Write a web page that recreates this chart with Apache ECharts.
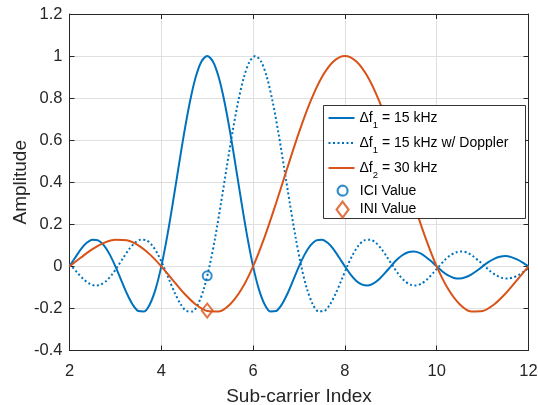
<!DOCTYPE html>
<html>
<head>
<meta charset="utf-8">
<script src="https://cdn.jsdelivr.net/npm/echarts@6/dist/echarts.min.js"></script>
<style>
  html, body { margin: 0; padding: 0; background: #fff; }
  #chart { width: 538px; height: 405px; }
</style>
</head>
<body>
<div id="chart"></div>
<script>
// values
// Δf1 = 15 kHz, main lobe at index 5
var xSolid = [2, 2.125, 2.25, 2.375, 2.5, 2.625, 2.75, 2.875,
  3, 3.125, 3.25, 3.375, 3.5, 3.625, 3.75, 3.875,
  4, 4.125, 4.25, 4.375, 4.5, 4.625, 4.75, 4.875,
  5, 5.125, 5.25, 5.375, 5.5, 5.625, 5.75, 5.875,
  6, 6.125, 6.25, 6.375, 6.5, 6.625, 6.75, 6.875,
  7, 7.125, 7.25, 7.375, 7.5, 7.625, 7.75, 7.875,
  8, 8.125, 8.25, 8.375, 8.5, 8.625, 8.75, 8.875,
  9, 9.125, 9.25, 9.375, 9.5, 9.625, 9.75, 9.875,
  10, 10.125, 10.25, 10.375, 10.5, 10.625, 10.75, 10.875,
  11, 11.125, 11.25, 11.375, 11.5, 11.625, 11.75, 11.875, 12]
var ySolid = [0, 0.042, 0.082, 0.112, 0.127, 0.124, 0.100, 0.057,
  0, -0.065, -0.129, -0.181, -0.212, -0.214, -0.180, -0.108,
  0, 0.139, 0.300, 0.471, 0.637, 0.784, 0.900, 0.974,
  1, 0.974, 0.900, 0.784, 0.637, 0.471, 0.300, 0.139,
  0, -0.108, -0.180, -0.214, -0.212, -0.181, -0.129, -0.065,
  0, 0.057, 0.100, 0.124, 0.127, 0.112, 0.082, 0.042,
  0, -0.039, -0.069, -0.087, -0.091, -0.081, -0.060, -0.031,
  0, 0.030, 0.053, 0.067, 0.071, 0.064, 0.047, 0.025,
  0, -0.024, -0.043, -0.055, -0.058, -0.052, -0.039, -0.021,
  0, 0.020, 0.036, 0.046, 0.049, 0.044, 0.033, 0.018, 0]

// Δf1 = 15 kHz w/ Doppler, main lobe shifted to about 6.05
var xDoppler = [2, 2.05, 2.175, 2.3, 2.425, 2.55, 2.675, 2.8, 2.925,
  3.05, 3.175, 3.3, 3.425, 3.55, 3.675, 3.8, 3.925,
  4.05, 4.175, 4.3, 4.425, 4.55, 4.675, 4.8, 4.925,
  5.05, 5.175, 5.3, 5.425, 5.55, 5.675, 5.8, 5.925,
  6.05, 6.175, 6.3, 6.425, 6.55, 6.675, 6.8, 6.925,
  7.05, 7.175, 7.3, 7.425, 7.55, 7.675, 7.8, 7.925,
  8.05, 8.175, 8.3, 8.425, 8.55, 8.675, 8.8, 8.925,
  9.05, 9.175, 9.3, 9.425, 9.55, 9.675, 9.8, 9.925,
  10.05, 10.175, 10.3, 10.425, 10.55, 10.675, 10.8, 10.925,
  11.05, 11.175, 11.3, 11.425, 11.55, 11.675, 11.8, 11.925, 12]
var yDoppler = [0.012, 0, -0.031, -0.060, -0.081, -0.091, -0.087, -0.069, -0.039,
  0, 0.042, 0.082, 0.112, 0.127, 0.124, 0.100, 0.057,
  0, -0.065, -0.129, -0.181, -0.212, -0.214, -0.180, -0.108,
  0, 0.139, 0.300, 0.471, 0.637, 0.784, 0.900, 0.974,
  1, 0.974, 0.900, 0.784, 0.637, 0.471, 0.300, 0.139,
  0, -0.108, -0.180, -0.214, -0.212, -0.181, -0.129, -0.065,
  0, 0.057, 0.100, 0.124, 0.127, 0.112, 0.082, 0.042,
  0, -0.039, -0.069, -0.087, -0.091, -0.081, -0.060, -0.031,
  0, 0.030, 0.053, 0.067, 0.071, 0.064, 0.047, 0.025,
  0, -0.024, -0.043, -0.055, -0.058, -0.052, -0.039, -0.021, -0.008]

// Δf2 = 30 kHz, main lobe at 8, twice as wide
var xWide = [2, 2.25, 2.5, 2.75, 3, 3.25, 3.5, 3.75,
  4, 4.25, 4.5, 4.75, 5, 5.25, 5.5, 5.75,
  6, 6.25, 6.5, 6.75, 7, 7.25, 7.5, 7.75,
  8, 8.25, 8.5, 8.75, 9, 9.25, 9.5, 9.75,
  10, 10.25, 10.5, 10.75, 11, 11.25, 11.5, 11.75, 12]
var yWide = [0, 0.042, 0.082, 0.112, 0.127, 0.124, 0.100, 0.057,
  0, -0.065, -0.129, -0.181, -0.212, -0.214, -0.180, -0.108,
  0, 0.139, 0.300, 0.471, 0.637, 0.784, 0.900, 0.974,
  1, 0.974, 0.900, 0.784, 0.637, 0.471, 0.300, 0.139,
  0, -0.108, -0.180, -0.214, -0.212, -0.181, -0.129, -0.065, 0]

var iciPoint = [5, -0.045]
var iniPoint = [5, -0.21]

var lineNames = ['Δf1 = 15 kHz', 'Δf1 = 15 kHz w/ Doppler', 'Δf2 = 30 kHz']
var markerNames = ['ICI Value', 'INI Value']

var blue = '#0072BD'
var orange = '#D95319'
var axisColor = '#262626'
var font = '"Liberation Sans", Arial, Helvetica, sans-serif'

function pairs(xs, ys) {
  return xs.map(function (x, i) { return [x, ys[i]] })
}

// legend text with subscript after the "Δf"
function legendLabel(name) {
  var m = name.match(/^Δf(\d)(.*)$/)
  if (!m) return name
  return '{m|Δf}{s|' + m[1] + '}{m|' + m[2] + '}'
}

var axisBase = {
  type: 'value',
  axisLine: { show: true, onZero: false, lineStyle: { color: axisColor, width: 1 } },
  axisTick: { show: true, inside: true, length: 5, lineStyle: { color: axisColor } },
  splitLine: { show: false }
}

function axis(extra) {
  return echarts.util.merge(echarts.util.clone(axisBase), extra, true)
}

var lineLegendText = {
  fontFamily: font,
  fontSize: 14,
  color: '#000',
  rich: {
    m: { fontFamily: font, fontSize: 14, lineHeight: 13, color: '#000' },
    s: { fontFamily: font, fontSize: 9.5, lineHeight: 9, padding: [14, 0, 0, 0], color: '#000' }
  }
}

function markerLegendText(padLeft) {
  return { fontFamily: font, fontSize: 14, lineHeight: 15, color: '#000', padding: [0, 0, 0, padLeft] }
}

var chart = echarts.init(document.getElementById('chart'))
chart.setOption({
  animation: false,
  backgroundColor: '#fff',
  // fixed plot box, labels are allowed outside it
  grid: { left: 69.5, right: 9.5, top: 14, bottom: 54.5, containLabel: false, outerBoundsMode: 'none' },
  xAxis: [
    axis({
      min: 2, max: 12, interval: 2, position: 'bottom',
      axisLabel: { color: axisColor, fontFamily: font, fontSize: 16.5, margin: 12 },
      splitLine: { show: true, lineStyle: { color: '#dfdfdf', width: 1 } },
      name: 'Sub-carrier Index', nameLocation: 'middle', nameGap: 37,
      nameTextStyle: { color: axisColor, fontFamily: font, fontSize: 19 }
    }),
    axis({ min: 2, max: 12, interval: 2, position: 'top', axisLabel: { show: false } })
  ],
  yAxis: [
    axis({
      min: -0.4, max: 1.2, interval: 0.2, position: 'left',
      axisLabel: {
        color: axisColor, fontFamily: font, fontSize: 16.5, margin: 7,
        formatter: function (v) { return String(+v.toFixed(1)) }
      },
      splitLine: { show: true, lineStyle: { color: '#dfdfdf', width: 1 } },
      name: 'Amplitude', nameLocation: 'middle', nameGap: 39, nameMoveOverlap: false,
      nameTextStyle: { color: axisColor, fontFamily: font, fontSize: 19 }
    }),
    axis({ min: -0.4, max: 1.2, interval: 0.2, position: 'right', axisLabel: { show: false } })
  ],
  graphic: [{
    type: 'rect', z: 20,
    shape: { x: 323.5, y: 105.5, width: 202, height: 113 },
    style: { fill: '#fff', stroke: '#000', lineWidth: 0.8 }
  }],
  legend: [{
    // the three curves: line sample only
    z: 30, orient: 'vertical', left: 327.5, top: 106, padding: 0,
    itemWidth: 26, itemHeight: 14, itemGap: 1,
    itemStyle: { opacity: 0 },
    data: lineNames, formatter: legendLabel, textStyle: lineLegendText
  }, {
    z: 30, orient: 'vertical', left: 336.5, top: 183.2, padding: 0,
    itemWidth: 10, itemHeight: 10,
    itemStyle: { borderWidth: 2.2 },
    data: [markerNames[0]], textStyle: markerLegendText(7.2)
  }, {
    z: 30, orient: 'vertical', left: 335.5, top: 200.5, padding: 0,
    itemWidth: 12, itemHeight: 16,
    itemStyle: { borderWidth: 2.2 },
    data: [markerNames[1]], textStyle: markerLegendText(6.2)
  }],
  series: [
    {
      name: lineNames[0], type: 'line', data: pairs(xSolid, ySolid),
      smooth: 0.3, symbol: 'none', z: 3,
      lineStyle: { color: blue, width: 2 }, itemStyle: { color: blue }
    },
    {
      name: lineNames[1], type: 'line', data: pairs(xDoppler, yDoppler),
      smooth: 0.3, symbol: 'none', z: 3,
      lineStyle: { color: blue, width: 2, type: [2, 2.5] }, itemStyle: { color: blue }
    },
    {
      name: lineNames[2], type: 'line', data: pairs(xWide, yWide),
      smooth: 0.3, symbol: 'none', z: 3,
      lineStyle: { color: orange, width: 2 }, itemStyle: { color: orange }
    },
    {
      // open markers, the curve shows through
      name: markerNames[0], type: 'scatter', data: [iciPoint], z: 4,
      symbol: 'circle', symbolSize: 9,
      itemStyle: { color: 'rgba(255,255,255,0)', borderColor: blue, borderWidth: 2 }
    },
    {
      name: markerNames[1], type: 'scatter', data: [iniPoint], z: 4,
      symbol: 'diamond', symbolSize: [11, 14],
      itemStyle: { color: 'rgba(255,255,255,0)', borderColor: orange, borderWidth: 2 }
    }
  ]
})
</script>
</body>
</html>
